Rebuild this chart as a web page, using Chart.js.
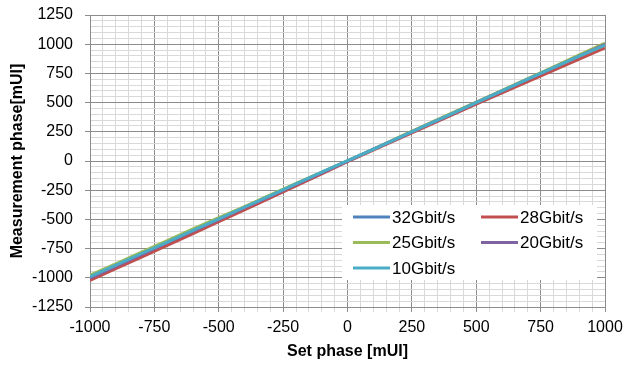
<!DOCTYPE html>
<html lang="en">
<head>
    <meta charset="UTF-8">
    <script src="https://cdn.jsdelivr.net/npm/chart.js"></script>
    <title>Phase chart</title>
    <style>
        body { margin: 0; background: #fff; }
    </style>
</head>
<body>
    <canvas id="phaseChart" width="625" height="365"></canvas>

    <script>
        // Set phase values (x axis, mUI)
        const setPhase = [-1000, -900, -800, -700, -600, -500, -400, -300, -200, -100, 0,
                          100, 200, 300, 400, 500, 600, 700, 800, 900, 1000];

        // Measured phase for each data rate (mUI)
        const rate32 = [-1000, -905, -800, -703, -598, -500, -402, -300, -198, -100, 0,
                        102, 200, 298, 400, 502, 600, 700, 800, 900, 1000];
        const rate28 = [-1022, -922, -822, -722, -622, -520, -418, -316, -214, -110, -6,
                        94, 192, 290, 388, 486, 584, 680, 776, 872, 968];
        const rate25 = [-978, -880, -780, -682, -582, -485, -390, -290, -192, -95, 2,
                        100, 205, 305, 405, 505, 605, 705, 805, 908, 1010];
        const rate20 = [-1003, -902, -802, -700, -600, -502, -400, -302, -200, -102, -2,
                        100, 198, 300, 398, 500, 598, 698, 798, 898, 998];
        const rate10 = [-990, -892, -792, -694, -594, -496, -396, -296, -196, -96, 3,
                        100, 200, 300, 400, 500, 600, 700, 800, 898, 993];

        const seriesNames = ['32Gbit/s', '28Gbit/s', '25Gbit/s', '20Gbit/s', '10Gbit/s'];
        const seriesValues = [rate32, rate28, rate25, rate20, rate10];
        const seriesColors = ['#4F81BD', '#C0504D', '#9BBB59', '#8064A2', '#4BACC6'];

        const majorStep = 250;
        const minorStep = 50;

        const datasets = seriesNames.map((name, i) => ({
          label: name,
          data: setPhase.map((x, j) => ({ x: x, y: seriesValues[i][j] })),
          borderColor: seriesColors[i],
          backgroundColor: seriesColors[i],
          borderWidth: 3,
          pointRadius: 0,
          tension: 0,
          order: seriesNames.length - i, // last series on top
        }));

        const majorColor = '#8c8c8c';
        const minorColor = '#d9d9d9';
        const gridColor = (ctx) => (ctx.tick && ctx.tick.value % majorStep === 0) ? majorColor : minorColor;
        const tickFont = { family: 'Liberation Sans', size: 16 };
        const titleFont = { family: 'Liberation Sans', size: 16, weight: 'bold' };

        // fixed axis sizes, no automatic label padding
        function fixScale(scale, size) {
          if (scale.isHorizontal()) scale.height = size;
          else scale.width = size;
          scale.paddingTop = 0;
          scale.paddingBottom = 0;
          scale.paddingLeft = 0;
          scale.paddingRight = 0;
        }

        // Legend drawn inside the plot area (bottom right)
        const insideLegend = {
          id: 'insideLegend',
          afterDatasetsDraw(chart) {
            const ctx = chart.ctx;
            const area = chart.chartArea;
            const boxW = 255, boxH = 75;
            const bx = area.right - 8 - boxW;
            const by = area.bottom - 27 - boxH;
            ctx.save();
            ctx.fillStyle = '#ffffff';
            ctx.fillRect(bx, by, boxW, boxH);
            ctx.font = '17px "Liberation Sans"';
            ctx.textBaseline = 'middle';
            chart.data.datasets.forEach((ds, i) => {
              const col = i % 2, row = Math.floor(i / 2);
              const x = bx + 11 + col * 128;
              const y = by + 12 + row * 25.5;
              ctx.strokeStyle = ds.borderColor;
              ctx.lineWidth = 3;
              ctx.beginPath();
              ctx.moveTo(x, y);
              ctx.lineTo(x + 37, y);
              ctx.stroke();
              ctx.fillStyle = '#000';
              ctx.fillText(ds.label, x + 39, y + 1);
            });
            ctx.restore();
          }
        };

        const phaseChart = new Chart(document.getElementById('phaseChart'), {
          type: 'line',
          data: { datasets: datasets },
          plugins: [insideLegend],
          options: {
            responsive: false,
            animation: false,
            layout: { padding: { top: 15, right: 20, left: 0, bottom: 0 } },
            plugins: {
              legend: { display: false },
              tooltip: { enabled: false },
            },
            scales: {
              x: {
                type: 'linear',
                min: -1000,
                max: 1000,
                afterFit: (scale) => fixScale(scale, 58),
                ticks: {
                  stepSize: minorStep,
                  autoSkip: false,
                  maxRotation: 0,
                  maxTicksLimit: 100,
                  padding: 6,
                  color: '#000',
                  font: tickFont,
                  callback: (v) => v % majorStep === 0 ? v : '',
                },
                grid: { color: gridColor, tickColor: gridColor, tickLength: 5 },
                border: { color: majorColor },
                title: { display: true, text: 'Set phase [mUI]', color: '#000', font: titleFont, padding: { bottom: 4 } },
              },
              y: {
                min: -1250,
                max: 1250,
                afterFit: (scale) => fixScale(scale, 90),
                ticks: {
                  stepSize: minorStep,
                  autoSkip: false,
                  maxTicksLimit: 100,
                  padding: 12,
                  color: '#000',
                  font: tickFont,
                  callback: (v) => v % majorStep === 0 ? v : '',
                },
                grid: {
                  color: gridColor,
                  tickColor: (ctx) => (ctx.tick && ctx.tick.value % majorStep === 0) ? majorColor : 'rgba(0,0,0,0)',
                  tickLength: 5,
                },
                border: { color: majorColor },
                title: { display: true, text: 'Measurement phase[mUI]', color: '#000', font: titleFont, padding: { top: 8 } },
              },
            },
          },
        });
    </script>
</body>
</html>
